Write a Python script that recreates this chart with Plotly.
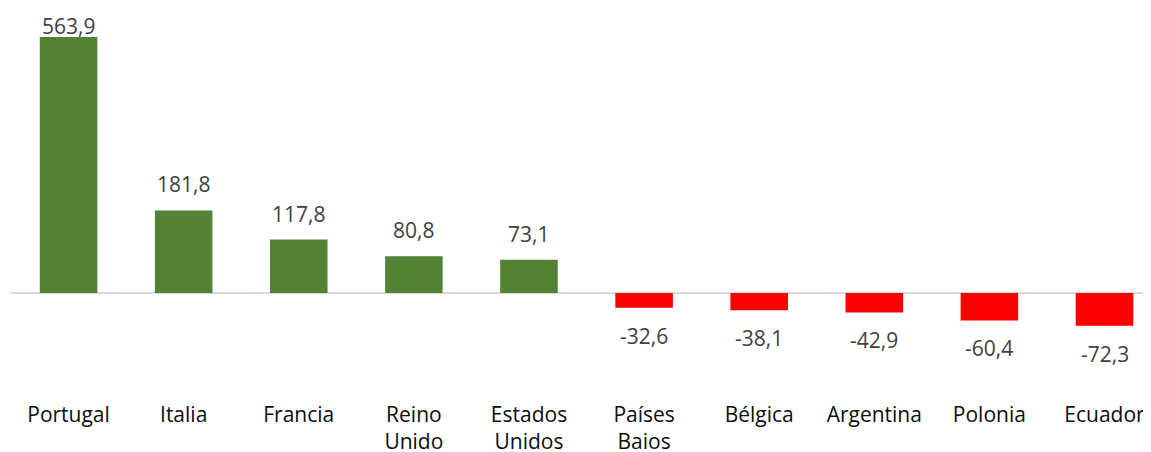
import plotly.graph_objects as go

# data
paises = ["Portugal", "Italia", "Francia", "Reino<br>Unido", "Estados<br>Unidos",
          "Países<br>Baios", "Bélgica", "Argentina", "Polonia", "Ecuador"]
variacion = [563.9, 181.8, 117.8, 80.8, 73.1, -32.6, -38.1, -42.9, -60.4, -72.3]

VERDE = "#548235"
ROJO = "#ff0000"
FONT = "Open Sans"

# page body has an 8px default margin, so the figure is a bit smaller
W, H = 1143, 444
M_L, M_R, M_T, M_B = 3, 0, 0, 52
Y_RANGE = [-235.7, 627.8]

colores = [VERDE if v >= 0 else ROJO for v in variacion]

fig = go.Figure()
fig.add_trace(go.Bar(
    x=paises, y=variacion,
    marker=dict(color=colores, line=dict(width=0)),
    width=0.5,
    hoverinfo="skip",
))

# value labels, Excel style: above positive bars, below negatives
plot_h = H - M_T - M_B
ppu = plot_h / (Y_RANGE[1] - Y_RANGE[0])
for p, v in zip(paises, variacion):
    etiqueta = f"{v:.1f}".replace(".", ",")
    if v >= 0:
        top_px = (Y_RANGE[1] - v) * ppu
        shift = min(26, top_px - 18)  # keep label inside the figure
    else:
        shift = -28
    fig.add_annotation(
        x=p, y=v, text=etiqueta, showarrow=False,
        yanchor="middle", yshift=shift,
        font=dict(family=FONT, size=21, color="#404040"),
    )

fig.update_layout(
    width=W, height=H,
    margin=dict(l=M_L, r=M_R, t=M_T, b=M_B, autoexpand=False),
    paper_bgcolor="white", plot_bgcolor="white",
    showlegend=False,
    font=dict(family=FONT, size=21, color="#0d0d0d"),
    xaxis=dict(
        range=[-0.5, 9.404], showgrid=False, showline=False,
        ticks="", tickfont=dict(family=FONT, size=21, color="#0d0d0d"),
        automargin=False, fixedrange=True,
    ),
    yaxis=dict(
        range=Y_RANGE, showgrid=False, showticklabels=False,
        zeroline=True, zerolinecolor="#d9d9d9", zerolinewidth=2,
        automargin=False, fixedrange=True,
    ),
)

fig.write_html("out.html", config={"displayModeBar": False})
